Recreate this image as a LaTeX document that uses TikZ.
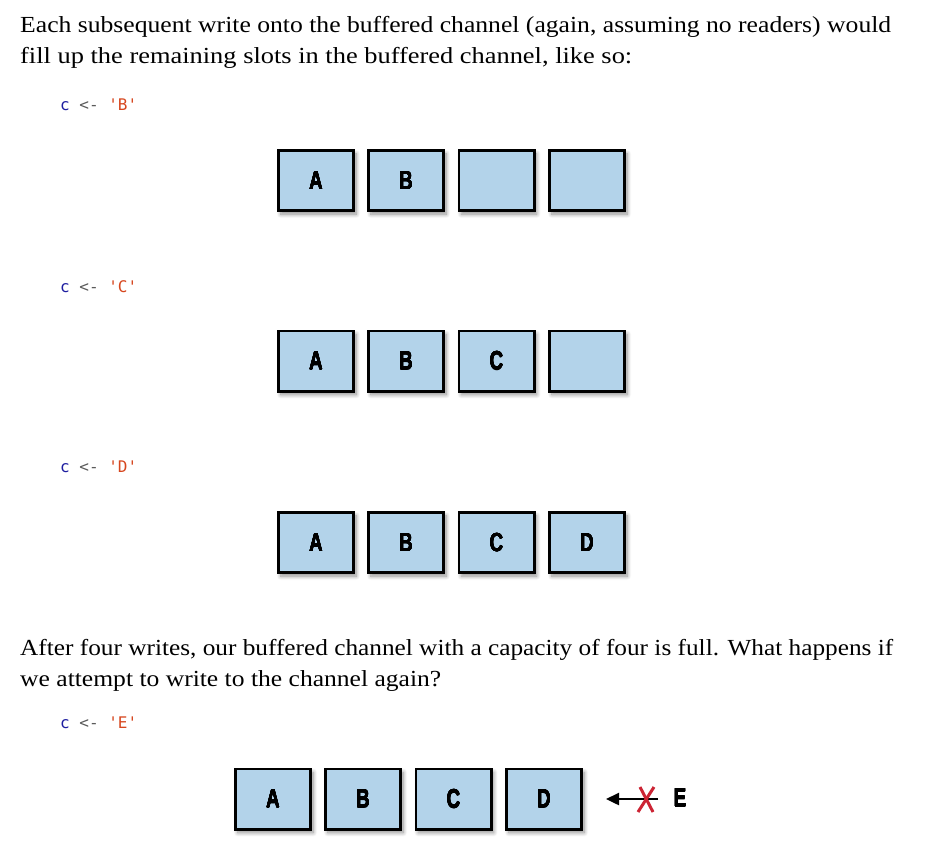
\documentclass[tikz,border=0pt]{standalone}
\usepackage{fontspec}
\usepackage[copies]{contour}
\setmainfont{Liberation Serif}
\newfontfamily\codefont{DejaVu Sans Mono}
\newfontfamily\labelfont{Liberation Sans}
\usetikzlibrary{arrows.meta,shadows.blur}
\definecolor{slotblue}{RGB}{179,211,234}
\definecolor{codeblue}{RGB}{30,30,160}
\definecolor{codegray}{RGB}{90,90,90}
\definecolor{codered}{RGB}{214,70,30}
\definecolor{crossred}{RGB}{204,36,52}
\contourlength{0.2pt}
\contournumber{8}
\newcommand{\codeline}[1]{{\color{codeblue}c} {\color{codegray}<-} {\color{codered}'#1'}}
\newcommand{\slotlabel}[1]{\scalebox{0.72}[1]{\labelfont\bfseries\contour{black}{#1}}}
\tikzset{
  slot/.style={draw=black, line width=2.6pt, fill=slotblue,
    minimum width=75.4pt, minimum height=60.4pt, inner sep=0pt,
    blur shadow={shadow xshift=2.5pt, shadow yshift=-3.5pt, shadow blur steps=8, shadow blur radius=4pt, shadow opacity=45},
    font=\fontsize{26pt}{26pt}\selectfont},
  para/.style={anchor=base west, inner sep=0pt, font=\fontsize{23pt}{23pt}\selectfont},
  code/.style={anchor=base west, inner sep=0pt, font=\fontsize{16pt}{16pt}\selectfont\codefont},
  blocked/.style={line width=2.4pt, -{Triangle[length=13pt,width=12pt]}},
  cross/.style={line width=3pt, crossred},
}
\begin{document}
\begin{tikzpicture}[x=1pt,y=-1pt]
\path[use as bounding box] (0,0) rectangle (936,854);
% paragraph 1
\node[para] (p1a) at (20,32) {\resizebox{871pt}{\height}{Each subsequent write onto the buffered channel (again, assuming no readers) would}};
\node[para] (p1b) at (20,63) {\resizebox{612pt}{\height}{fill up the remaining slots in the buffered channel, like so:}};
% code lines
\node[code] (cB) at (60,110) {\codeline{B}};
\node[code] (cC) at (60,292) {\codeline{C}};
\node[code] (cD) at (60,472) {\codeline{D}};
\node[code] (cE) at (60,728) {\codeline{E}};
% row 1
\node[slot] (r1a) at (316,180.5) {\slotlabel{A}};
\node[slot] (r1b) at (406,180.5) {\slotlabel{B}};
\node[slot] (r1c) at (496.5,180.5) {};
\node[slot] (r1d) at (587,180.5) {};
% row 2
\node[slot] (r2a) at (316,361) {\slotlabel{A}};
\node[slot] (r2b) at (406,361) {\slotlabel{B}};
\node[slot] (r2c) at (496.5,361) {\slotlabel{C}};
\node[slot] (r2d) at (587,361) {};
% row 3
\node[slot] (r3a) at (316,542.5) {\slotlabel{A}};
\node[slot] (r3b) at (406,542.5) {\slotlabel{B}};
\node[slot] (r3c) at (496.5,542.5) {\slotlabel{C}};
\node[slot] (r3d) at (587,542.5) {\slotlabel{D}};
% paragraph 2
\node[para] (p2a) at (20,655) {\resizebox{873pt}{\height}{After four writes, our buffered channel with a capacity of four is full. What happens if}};
\node[para] (p2b) at (20,686) {\resizebox{421pt}{\height}{we attempt to write to the channel again?}};
% row 4
\node[slot] (r4a) at (273,799) {\slotlabel{A}};
\node[slot] (r4b) at (363,799) {\slotlabel{B}};
\node[slot] (r4c) at (453.5,799) {\slotlabel{C}};
\node[slot] (r4d) at (544,799) {\slotlabel{D}};
\node[inner sep=0pt, font=\fontsize{26pt}{26pt}\selectfont] (e) at (680,798) {\slotlabel{E}};
\coordinate (tail) at (658,799);
\coordinate (tip) at (606,799);
\draw[blocked] (tail) -- (tip);
\coordinate (x1) at (640,787);
\coordinate (x2) at (653,812);
\coordinate (x3) at (654,787);
\coordinate (x4) at (638,812);
\draw[cross] (x1) -- (x2);
\draw[cross] (x3) -- (x4);
\end{tikzpicture}
\end{document}
